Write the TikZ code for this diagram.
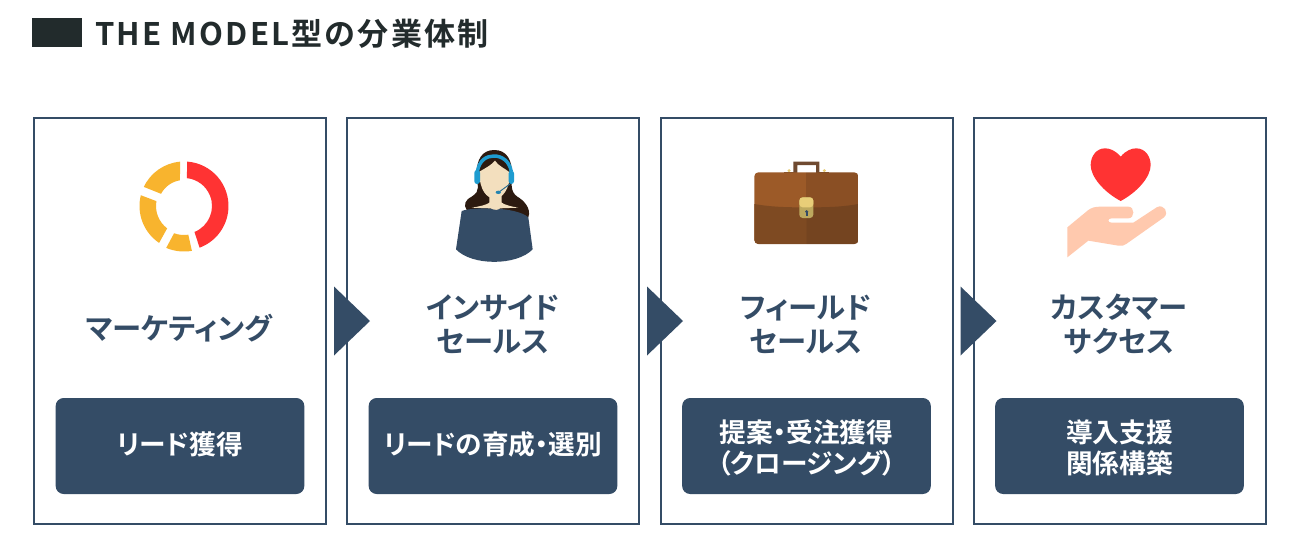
\documentclass[tikz,border=0pt]{standalone}
\usepackage{fontspec}
\setmainfont{Noto Sans CJK JP}[BoldFont={Noto Sans CJK JP Bold}]
\newfontfamily\jpb{Noto Sans CJK JP Bold}
\newfontfamily\jpp{Noto Sans CJK JP Bold}[RawFeature=+palt]
\newfontfamily\jpt{Noto Sans CJK JP Bold}[LetterSpace=7]
\definecolor{navy}{HTML}{344C66}
\definecolor{ink}{HTML}{222B2C}
\definecolor{gold}{HTML}{F8B42E}
\definecolor{redd}{HTML}{FF3333}
\definecolor{skin}{HTML}{F3DFBE}
\definecolor{hair}{HTML}{2C1A10}
\definecolor{phones}{HTML}{1E9CD0}
\definecolor{peach}{HTML}{FFC9AE}
\definecolor{caseA}{HTML}{9C5A28}
\definecolor{caseB}{HTML}{8A4F24}
\definecolor{caseC}{HTML}{7E4A22}
\definecolor{caseD}{HTML}{744420}
\definecolor{claspA}{HTML}{E8CE78}
\definecolor{claspB}{HTML}{BDA95E}
\definecolor{handle}{HTML}{6F4A30}
\tikzset{
  x=.75pt,y=.75pt,
  card/.style={draw=navy,line width=1.5pt,minimum width=219pt,minimum height=304.5pt,inner sep=0pt,fill=white},
  pill/.style={fill=navy,rounded corners=6pt,minimum width=186.5pt,minimum height=72pt,inner sep=0pt},
  pilltext/.style={inner sep=0pt,text=white,align=center,font=\jpp\fontsize{20pt}{23.4pt}\selectfont},
  head/.style={text=navy,align=center,inner sep=0pt,font=\jpp\fontsize{22pt}{25.5pt}\selectfont},
  chev/.style={fill=navy},
  zoomed/.style={x=.25pt,y=-.25pt}
}
\begin{document}
\begin{tikzpicture}
\useasboundingbox (0,0) rectangle (1300,-557);
\fill[white] (0,0) rectangle (1300,-557);
% title
\node[fill=ink,minimum width=37.5pt,minimum height=21.75pt,inner sep=0pt] (bar) at (57,-32.5) {};
\node[anchor=west,inner sep=0pt,text=ink,font=\jpt\fontsize{23.3pt}{28pt}\selectfont] (title) at (95,-34) {THE MODEL型の分業体制};
% cards
\node[card] (c1) at (180,-321) {};
\node[card] (c2) at (493,-321) {};
\node[card] (c3) at (806.5,-321) {};
\node[card] (c4) at (1119.5,-321) {};
% pills
\node[pill] (p1) at (180,-446) {};
\node[pill] (p2) at (493,-446) {};
\node[pill] (p3) at (806.5,-446) {};
\node[pill] (p4) at (1119.5,-446) {};
\node[pilltext] (t1) at ([yshift=1.5pt]p1.center) {リード獲得};
\node[pilltext] (t2) at ([yshift=1.5pt]p2.center) {リードの育成・選別};
\node[pilltext] (t3) at ([yshift=-1.2pt]p3.center) {提案・受注獲得\\（クロージング）};
\node[pilltext] (t4) at ([yshift=-1.2pt]p4.center) {導入支援\\関係構築};
% headings
\node[head] (h1) at (179,-328) {マーケティング};
\node[head] (h2) at (493,-324) {インサイド\\セールス};
\node[head] (h3) at (806,-324) {フィールド\\セールス};
\node[head] (h4) at (1119,-324) {カスタマー\\サクセス};
% chevrons
\foreach \a in {c1,c2,c3}{
  \fill[chev] ([shift={(7,34.5)}]\a.east) -- ([shift={(43,0)}]\a.east) -- ([shift={(7,-34.5)}]\a.east) -- cycle;
}
% donut
\begin{scope}[shift={(184,-206)}]
\fill[redd] (86:44.5) arc[start angle=86,end angle=-69.5,radius=44.5] -- (-68:28) arc[start angle=-68,end angle=84,radius=28] -- cycle;
\fill[gold] (-80:45.5) arc[start angle=-80,end angle=-113,radius=45.5] -- (-110:29) arc[start angle=-110,end angle=-81.5,radius=29] -- cycle;
\fill[gold] (-124:44.5) arc[start angle=-124,end angle=-194,radius=44.5] -- (170:28) arc[start angle=170,end angle=233,radius=28] -- cycle;
\fill[gold] (154.6:44.5) arc[start angle=154.6,end angle=95,radius=44.5] -- (99:26) arc[start angle=99,end angle=152,radius=26] -- cycle;
\end{scope}
% person
\begin{scope}[shift={(430,-140)},zoomed]
\fill[hair] (193,30) .. controls (155,30) and (140,60) .. (140,100) .. controls (140,140) and (155,150) .. (125,170) .. controls (105,180) and (100,195) .. (110,210) -- (295,232) .. controls (305,205) and (280,180) .. (262,170) .. controls (240,155) and (245,130) .. (246,100) .. controls (246,60) and (230,30) .. (193,30) -- cycle;
\fill[navy] (95,213) .. controls (130,200) and (260,200) .. (295,232) -- (308,328) .. controls (260,378) and (125,378) .. (78,328) -- cycle;
\fill[skin] (178,150) -- (178,188) .. controls (170,195) and (145,200) .. (125,203) -- (182,205) .. controls (195,212) and (205,210) .. (210,205) -- (265,203) .. controls (245,200) and (225,195) .. (215,188) -- (215,150) -- cycle;
\fill[skin] (148,95) .. controls (165,85) and (185,75) .. (195,62) .. controls (205,78) and (225,85) .. (240,98) .. controls (240,150) and (215,176) .. (195,176) .. controls (170,176) and (148,150) .. (148,95) -- cycle;
\draw[phones,line width=2.6pt] (142,95) .. controls (148,60) and (170,48) .. (192,48) .. controls (215,48) and (238,62) .. (244,95);
\fill[phones,rounded corners=2pt] (133,90) rectangle (150,132);
\fill[phones,rounded corners=2pt] (236,92) rectangle (252,132);
\draw[navy!60!phones,line width=.7pt] (240,132) -- (207,156);
\fill[phones!70!navy] (205,157) ellipse[x radius=8,y radius=5];
\end{scope}
% briefcase
\begin{scope}[shift={(740,-150)},zoomed]
\fill[handle] (160,70) -- (160,35) -- (238,35) -- (238,70) -- (228,70) -- (228,45) -- (172,45) -- (172,70) -- cycle;
\fill[claspA] (147,62) circle[radius=5];
\fill[claspA] (253,62) circle[radius=5];
\fill[handle] (132,65) rectangle (172,71);
\fill[handle] (228,65) rectangle (268,71);
\begin{scope}
\clip[rounded corners=3pt] (43,67) rectangle (355,282);
\fill[caseA] (43,67) rectangle (199,282);
\fill[caseB] (199,67) rectangle (355,282);
\fill[caseC] (43,162) .. controls (100,172) and (150,172) .. (199,172) -- (199,282) -- (43,282) -- cycle;
\fill[caseD] (199,172) .. controls (250,172) and (300,172) .. (355,162) -- (355,282) -- (199,282) -- cycle;
\end{scope}
\fill[claspB,rounded corners=2.5pt] (178,142) rectangle (220,204);
\fill[claspA,rounded corners=2.5pt] (178,142) -- (220,142) -- (220,172) -- (178,172) -- cycle;
\fill[navy] (200,185) circle[radius=5];
\fill[navy] (197,185) rectangle (203,198);
\end{scope}
% hand and heart
\begin{scope}[shift={(1050,-140)},zoomed]
\fill[redd] (212,50) .. controls (195,30) and (178,25) .. (165,25) .. controls (138,25) and (122,50) .. (122,75) .. controls (122,110) and (160,155) .. (212,183) .. controls (264,155) and (302,110) .. (302,75) .. controls (302,50) and (286,25) .. (259,25) .. controls (246,25) and (229,30) .. (212,50) -- cycle;
\fill[peach] (52,262) -- (52,352) -- (115,302) -- (205,317) .. controls (215,319) and (222,317) .. (230,311) -- (342,232) .. controls (358,218) and (342,190) .. (320,202) -- (250,248) -- (185,248) .. controls (172,248) and (172,235) .. (185,235) -- (235,235) .. controls (255,235) and (255,200) .. (235,200) -- (150,200) .. controls (135,200) and (125,203) .. (115,210) -- cycle;
\end{scope}
\end{tikzpicture}
\end{document}
